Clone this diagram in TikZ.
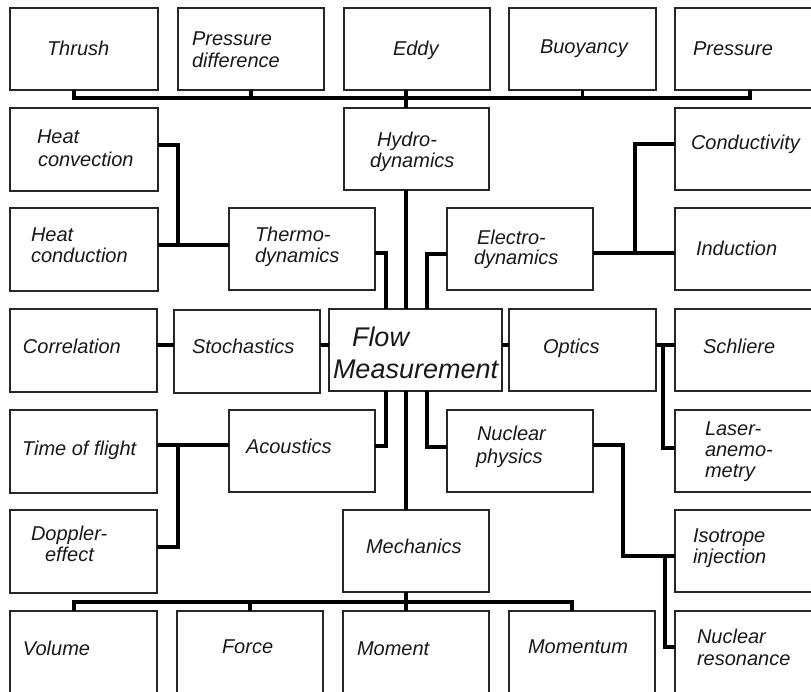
\documentclass[tikz,border=0pt]{standalone}
\usepackage{fontspec}
\setmainfont{Liberation Sans}
\begin{document}
\begin{tikzpicture}[x=1pt,y=-1pt,
  box/.style={draw=black!85,line width=1.2pt,fill=white,inner sep=0pt,outer sep=0pt},
  conn/.style={draw=black,line width=3.6pt,line join=miter,line cap=butt},
  txt/.style={anchor=base west,inner sep=0pt,outer sep=0pt,font=\fontsize{20}{24}\selectfont\itshape,text=black!90},
  big/.style={txt,font=\fontsize{27}{32}\selectfont\itshape}]
\newcommand\drawbox[5]{\node[box,minimum width=#4pt,minimum height=#5pt] (#1) at (#2+#4/2,#3+#5/2) {};}
\newcommand\tx[4]{\node[txt] (#1) at (#2,#3) {#4};}
\useasboundingbox (0,0) rectangle (811,691);
\clip (0,0) rectangle (811,691);
\fill[white] (0,0) rectangle (811,691);
% helper coordinates
\coordinate (tb) at (0,98);
\coordinate (bb) at (0,602);
\coordinate (c74) at (74,0);
\coordinate (c750) at (750,0);
\coordinate (c572) at (572,0);
\coordinate (spine) at (406,0);
\coordinate (r4) at (0,345);
% boxes
\drawbox{thrush}{10}{8}{148}{82}
\drawbox{pdiff}{178}{8}{146}{82}
\drawbox{eddy}{344}{8}{146}{82}
\drawbox{buoy}{509}{8}{147}{82}
\drawbox{pres}{675}{8}{150}{82}
\drawbox{hconv}{10}{108}{148}{83}
\drawbox{hydro}{344}{108}{145}{82}
\drawbox{cond}{675}{108}{150}{82}
\drawbox{hcond}{10}{208}{148}{83}
\drawbox{thermo}{229}{208}{146}{82}
\drawbox{elec}{447}{208}{146}{82}
\drawbox{induc}{675}{208}{150}{82}
\drawbox{corr}{10}{309}{147}{83}
\drawbox{stoch}{174}{310}{146}{83}
\drawbox{flow}{329}{309}{173}{82}
\drawbox{optics}{509}{309}{147}{82}
\drawbox{schl}{675}{309}{150}{82}
\drawbox{tof}{10}{410}{147}{83}
\drawbox{acoust}{229}{410}{146}{82}
\drawbox{nucl}{447}{410}{146}{82}
\drawbox{laser}{675}{410}{150}{82}
\drawbox{doppler}{10}{510}{147}{83}
\drawbox{mech}{343}{510}{146}{82}
\drawbox{isot}{675}{510}{150}{82}
\drawbox{volume}{10}{611}{147}{90}
\drawbox{force}{177}{611}{146}{90}
\drawbox{moment}{343}{611}{146}{90}
\drawbox{momentum}{509}{611}{146}{90}
\drawbox{nres}{675}{611}{150}{90}
% texts
\tx{t1}{47}{55}{Thrush}
\tx{t2a}{192}{45}{Pressure}
\tx{t2b}{192}{67}{difference}
\tx{t3}{393}{55}{Eddy}
\tx{t4}{540}{53}{Buoyancy}
\tx{t5}{693}{55}{Pressure}
\tx{t6a}{37}{143}{Heat}
\tx{t6b}{38}{166}{convection}
\tx{t7a}{377}{146}{Hydro-}
\tx{t7b}{370}{167}{dynamics}
\tx{t8}{691}{149}{Conductivity}
\tx{t9a}{31}{241}{Heat}
\tx{t9b}{31}{262}{conduction}
\tx{t10a}{255}{241}{Thermo-}
\tx{t10b}{255}{262}{dynamics}
\tx{t11a}{477}{244}{Electro-}
\tx{t11b}{474}{264}{dynamics}
\tx{t12}{696}{255}{Induction}
\tx{t13}{23}{353}{Correlation}
\tx{t14}{192}{353}{Stochastics}
\node[big] (t15a) at (352,346) {Flow};
\node[big] (t15b) at (333,378) {Measurement};
\tx{t16}{543}{353}{Optics}
\tx{t17}{703}{353}{Schliere}
\tx{t18}{22}{455}{Time of flight}
\tx{t19}{246}{453}{Acoustics}
\tx{t20a}{477}{440}{Nuclear}
\tx{t20b}{476}{463}{physics}
\tx{t21a}{705}{435}{Laser-}
\tx{t21b}{705}{456}{anemo-}
\tx{t21c}{705}{477}{metry}
\tx{t22a}{31}{540}{Doppler-}
\tx{t22b}{45}{561}{effect}
\tx{t23}{366}{553}{Mechanics}
\tx{t24a}{693}{542}{Isotrope}
\tx{t24b}{693}{563}{injection}
\tx{t25}{23}{655}{Volume}
\tx{t26}{222}{653}{Force}
\tx{t27}{357}{655}{Moment}
\tx{t28}{528}{653}{Momentum}
\tx{t29a}{697}{643}{Nuclear}
\tx{t29b}{697}{665}{resonance}
% top bus
\draw[conn] (thrush.south -| c74) -- (tb -| c74) -- (tb -| c750) -- (pres.south -| c750);
\draw[conn] (pdiff.south) -- (tb -| pdiff.south);
\draw[conn] (buoy.south) -- (tb -| buoy.south);
% spine
\draw[conn] (eddy.south -| spine) -- (hydro.north -| spine);
\draw[conn] (hydro.south -| spine) -- (flow.north -| spine);
\draw[conn] (flow.south -| spine) -- (mech.north -| spine);
\draw[conn] (mech.south -| spine) -- (moment.north -| spine);
% bottom bus
\draw[conn] (volume.north -| c74) -- (bb -| c74) -- (bb -| c572) -- (momentum.north -| c572);
\draw[conn] (force.north) -- (bb -| force.north);
% thermodynamics
\coordinate (thA) at (178,145);
\coordinate (thB) at (178,245);
\coordinate (thC) at (386,253);
\draw[conn] (hconv.east |- thA) -- (thA) -- (thB);
\draw[conn] (hcond.east |- thB) -- (thermo.west |- thB);
\draw[conn] (thermo.east |- thC) -- (thC) -- (flow.north -| thC);
% stochastics / optics
\draw[conn] (corr.east |- r4) -- (stoch.west |- r4);
\draw[conn] (stoch.east |- r4) -- (flow.west |- r4);
\draw[conn] (flow.east |- r4) -- (optics.west |- r4);
\draw[conn] (optics.east |- r4) -- (schl.west |- r4);
\coordinate (opA) at (663,345);
\coordinate (opB) at (663,448);
\draw[conn] (opA) -- (opB) -- (laser.west |- opB);
% electrodynamics
\coordinate (elA) at (427,254);
\coordinate (elB) at (635,253);
\coordinate (elC) at (635,144);
\draw[conn] (elec.west |- elA) -- (elA) -- (flow.north -| elA);
\draw[conn] (elec.east |- elB) -- (induc.west |- elB);
\draw[conn] (elB) -- (elC) -- (cond.west |- elC);
% acoustics
\coordinate (acA) at (178,445);
\coordinate (acB) at (178,547);
\coordinate (acC) at (386,446);
\draw[conn] (tof.east |- acA) -- (acoust.west |- acA);
\draw[conn] (acA) -- (acB) -- (doppler.east |- acB);
\draw[conn] (acoust.east |- acC) -- (acC) -- (flow.south -| acC);
% nuclear physics
\coordinate (nuA) at (427,447);
\coordinate (nuB) at (623,445);
\coordinate (nuC) at (623,556);
\coordinate (nuD) at (665,556);
\coordinate (nuE) at (665,647);
\draw[conn] (flow.south -| nuA) -- (nuA) -- (nucl.west |- nuA);
\draw[conn] (nucl.east |- nuB) -- (nuB) -- (nuC) -- (isot.west |- nuC);
\draw[conn] (nuD) -- (nuE) -- (nres.west |- nuE);
\end{tikzpicture}
\end{document}
